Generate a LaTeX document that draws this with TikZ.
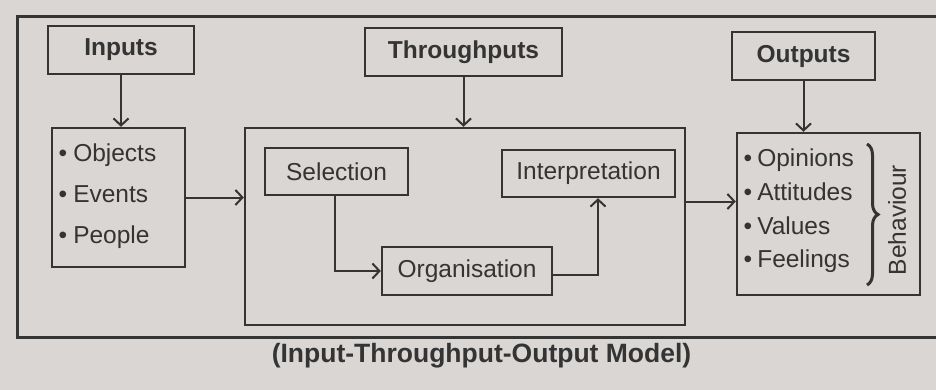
\documentclass[tikz,border=0pt]{standalone}
\usepackage{fontspec}
\setmainfont{Liberation Sans}
\usetikzlibrary{arrows.meta,decorations.pathreplacing,calc}
\definecolor{paper}{RGB}{217,214,211}
\definecolor{ink}{RGB}{52,52,52}
\begin{document}
\begin{tikzpicture}[x=1pt,y=-1pt,
  box/.style={draw=ink,line width=2.4pt,inner sep=0pt},
  arr/.style={draw=ink,line width=2pt,-{Straight Barb[length=7pt,width=15pt,line width=2pt]}},
  hd/.style={font=\fontsize{24.5}{28}\selectfont\bfseries,text=ink},
  tx/.style={font=\fontsize{24.5}{28}\selectfont,text=ink,inner sep=0pt},
  captext/.style={font=\fontsize{26.5}{30}\selectfont\bfseries,text=ink,inner sep=0pt},
]
\useasboundingbox (0,0) rectangle (936,390);
\fill[paper] (0,0) rectangle (936,390);

% outer frame
\node[box,line width=3pt,minimum width=933pt,minimum height=320pt] (frame) at (483.5,177) {};

% headers
\node[box,hd,minimum width=146pt,minimum height=48pt] (inputs) at (121,50) {Inputs};
\node[box,hd,minimum width=197pt,minimum height=48pt] (thr) at (463.5,52) {Throughputs};
\node[box,hd,minimum width=143pt,minimum height=48pt] (outputs) at (803.5,56) {Outputs};

% input list
\node[box,minimum width=133pt,minimum height=139pt] (inlist) at (118.5,197.5) {};
\node[tx,anchor=base west] (in1) at (58.5,161) {\textbullet\hspace{6pt}Objects};
\node[tx,anchor=base west] (in2) at (58.5,202) {\textbullet\hspace{6pt}Events};
\node[tx,anchor=base west] (in3) at (58.5,243) {\textbullet\hspace{6pt}People};

% throughput box
\node[box,minimum width=440pt,minimum height=197pt] (through) at (465,226.5) {};
\node[box,tx,minimum width=143pt,minimum height=47pt] (sel) at (336.5,171.5) {Selection};
\node[box,tx,minimum width=173pt,minimum height=47pt] (interp) at (588.5,173.5) {Interpretation};
\node[box,tx,minimum width=170pt,minimum height=48pt] (org) at (467,271) {Organisation};

% output list
\node[box,minimum width=183pt,minimum height=162pt] (outlist) at (828.5,214) {};
\node[tx,anchor=base west] (o1) at (743.5,166.5) {\textbullet\hspace{5pt}Opinions};
\node[tx,anchor=base west] (o2) at (743.5,200.5) {\textbullet\hspace{5pt}Attitudes};
\node[tx,anchor=base west] (o3) at (743.5,234) {\textbullet\hspace{5pt}Values};
\node[tx,anchor=base west] (o4) at (743.5,267) {\textbullet\hspace{5pt}Feelings};
\coordinate (brtop) at (867,144);
\coordinate (brbot) at (867,285);
\draw[ink,line width=3pt,decorate,decoration={brace,amplitude=11pt}] (brtop) -- (brbot);
\node[tx,rotate=90] (beh) at (897,220) {Behaviour};

% connectors
\draw[arr] (inputs.south) -- (inputs.south |- inlist.north);
\draw[arr] (thr.south) -- (thr.south |- through.north);
\draw[arr] (outputs.south) -- (outputs.south |- outlist.north);
\draw[arr] (inlist.east) -- (inlist.east -| through.west);
\draw[arr] ([xshift=-1.5pt]sel.south) |- (org.west);
\draw[arr] ([yshift=-4pt]org.east) -| ([xshift=9.5pt]interp.south);
\draw[arr] ([yshift=25pt]through.east) coordinate (tx1) -- (tx1 -| outlist.west);

% caption
\node[captext,anchor=base] (caption) at (481.5,362) {(Input-Throughput-Output Model)};
\end{tikzpicture}
\end{document}
